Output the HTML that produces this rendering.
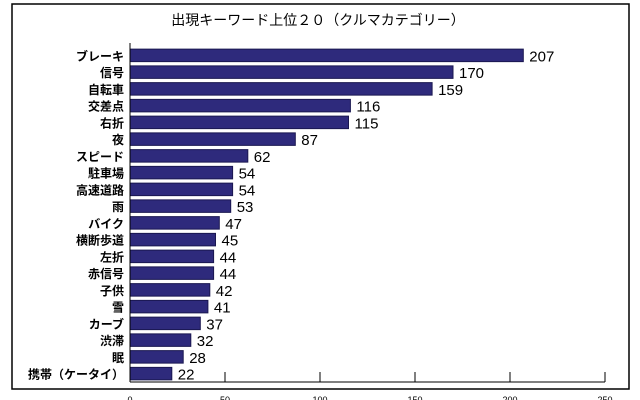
<!DOCTYPE html>
<html><head><meta charset="utf-8"><style>
body{margin:0;background:#fff;}
svg{display:block;font-family:"Liberation Sans","Noto Sans CJK JP",sans-serif;}
</style></head><body>
<svg id="c" width="640" height="400">
<rect x="12" y="4" width="617" height="385" fill="#fff" stroke="#000" stroke-width="1.5"/>
<text x="318" y="25" text-anchor="middle" font-size="14" fill="#000">出現キーワード上位２０（クルマカテゴリー）</text>
</svg>
<script>
const categories=["ブレーキ","信号","自転車","交差点","右折","夜","スピード","駐車場","高速道路","雨","バイク","横断歩道","左折","赤信号","子供","雪","カーブ","渋滞","眠","携帯（ケータイ）"];
const values=[207,170,159,116,115,87,62,54,54,53,47,45,44,44,42,41,37,32,28,22];
const ticks=[0,50,100,150,200,250];
const svg=document.getElementById('c');
const NS='http://www.w3.org/2000/svg';
const x0=130,scale=1.9,top0=47,pitch=16.75,barH=12.5,axisY=382;
function xs(v){return x0+v*scale;}
function yc(i){return top0+i*pitch+pitch/2;}
function mk(t,a){const e=document.createElementNS(NS,t);for(const k in a)e.setAttribute(k,a[k]);svg.appendChild(e);return e;}
categories.forEach((c,i)=>{
  const r=mk('rect',{x:x0,y:yc(i)-barH/2,width:xs(values[i])-x0,height:barH,fill:'#2e2a7c',stroke:'#1a1750','stroke-width':1});
  
  
  const l=mk('text',{x:x0-6,y:yc(i)+5,'text-anchor':'end','font-size':12,'font-weight':'bold',fill:'#000'});
  l.textContent=c;
  
  
  const v=mk('text',{x:xs(values[i])+6,y:yc(i)+6,'font-size':15,fill:'#000'});
  v.textContent=values[i];
  
  
});
const ya=mk('line',{x1:x0,y1:43,x2:x0,y2:axisY,stroke:'#000','stroke-width':1});


const xa=mk('line',{x1:x0,y1:axisY,x2:xs(250),y2:axisY,stroke:'#000','stroke-width':1});


ticks.forEach(t=>{
  const tk=mk('line',{x1:xs(t),y1:axisY-10,x2:xs(t),y2:axisY,stroke:'#000','stroke-width':1});
  
  
  const tl=mk('text',{x:xs(t),y:403,'text-anchor':'middle','font-size':9,fill:'#000'});
  tl.textContent=t;
  
  
});
</script>
</body></html>
